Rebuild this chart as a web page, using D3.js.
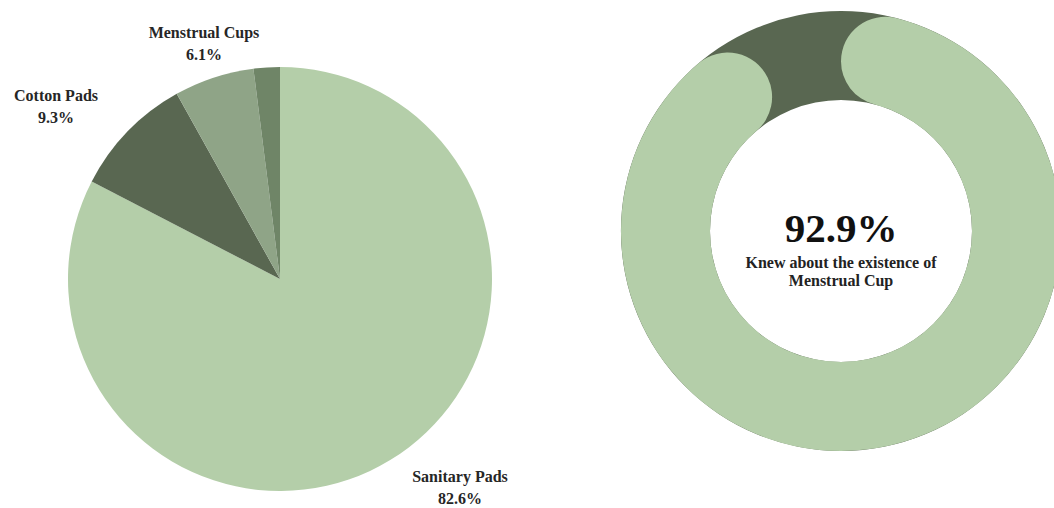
<!DOCTYPE html>
<html>
<head>
<meta charset="utf-8">
<script src="https://cdn.jsdelivr.net/npm/d3@7"></script>
<style>
  html, body { margin: 0; padding: 0; background: #ffffff; }
  svg { display: block; }
  text { font-family: "Liberation Serif", "Times New Roman", serif; font-weight: bold; }
</style>
</head>
<body>
<svg id="chart" width="1054" height="508"></svg>
<script>
// Products used (share of respondents, %)
const products = ["Sanitary Pads", "Cotton Pads", "Menstrual Cups", "Other"];
const shares = [82.6, 9.3, 6.1, 2.0];
const sliceColors = ["#b4cea9", "#596751", "#8fa487", "#6f8567"];
const showLabel = [true, true, true, false];

// Awareness of the menstrual cup (%)
const awareness = 92.9;
const awarenessCaption = ["Knew about the existence of", "Menstrual Cup"];

const svg = d3.select("#chart");

// ---- Pie: products used ----
const pieCx = 280, pieCy = 279, pieR = 212;
const pieG = svg.append("g").attr("transform", `translate(${pieCx},${pieCy})`);

const pie = d3.pie().sort(null).value(d => d.value);
const arcs = pie(products.map((p, i) => ({ name: p, value: shares[i], color: sliceColors[i], label: showLabel[i] })));
const arc = d3.arc().innerRadius(0).outerRadius(pieR);

pieG.selectAll("path.slice")
  .data(arcs)
  .join("path")
  .attr("class", "slice")
  .attr("d", arc)
  .attr("fill", d => d.data.color);

// Label positions relative to the pie centre, placed in the free space outside the slices
const labelOffsets = {
  "Sanitary Pads": [180, 197],
  "Cotton Pads": [-224, -184],
  "Menstrual Cups": [-76, -247]
};
const labelG = pieG.selectAll("g.lbl")
  .data(arcs.filter(d => d.data.label))
  .join("g")
  .attr("class", "lbl")
  .attr("transform", d => `translate(${labelOffsets[d.data.name][0]},${labelOffsets[d.data.name][1]})`);

labelG.append("text")
  .attr("text-anchor", "middle")
  .attr("font-size", 16)
  .attr("fill", "#262626")
  .attr("y", 5.5)
  .text(d => d.data.name);
labelG.append("text")
  .attr("text-anchor", "middle")
  .attr("font-size", 16)
  .attr("fill", "#262626")
  .attr("y", 27.5)
  .text(d => d3.format(".1f")(d.data.value) + "%");

// ---- Donut gauge: awareness ----
const dCx = 841, dCy = 231, dOuter = 220, dInner = 131;
const dG = svg.append("g").attr("transform", `translate(${dCx},${dCy})`);

const angle = d3.scaleLinear().domain([0, 100]).range([0, 2 * Math.PI]);

const track = d3.arc().innerRadius(dInner).outerRadius(dOuter).startAngle(0).endAngle(angle(100));
dG.append("path").attr("d", track()).attr("fill", "#596751");

const bar = d3.arc()
  .innerRadius(dInner).outerRadius(dOuter)
  .cornerRadius((dOuter - dInner) / 2)
  .startAngle(0).endAngle(angle(awareness));
dG.append("path").attr("d", bar()).attr("fill", "#b4cea9");

dG.append("text")
  .attr("text-anchor", "middle")
  .attr("font-size", 41)
  .attr("fill", "#111")
  .attr("y", 11)
  .text(d3.format(".1f")(awareness) + "%");

dG.selectAll("text.cap")
  .data(awarenessCaption)
  .join("text")
  .attr("class", "cap")
  .attr("text-anchor", "middle")
  .attr("font-size", 16)
  .attr("fill", "#222")
  .attr("y", (d, i) => 36.5 + i * 18)
  .text(d => d);
</script>
</body>
</html>
